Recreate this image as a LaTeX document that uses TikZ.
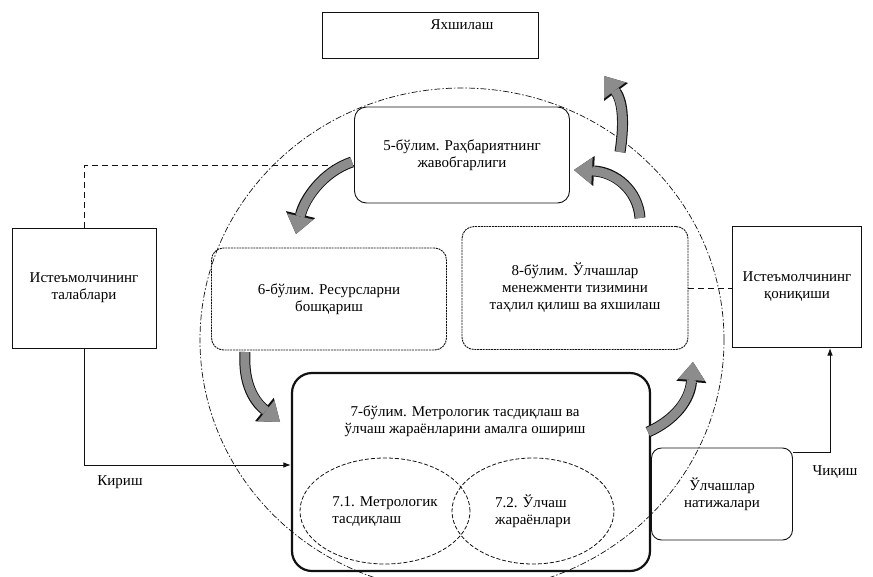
\documentclass[tikz,border=0pt]{standalone}
\usepackage{fontspec}
\setmainfont{Liberation Serif}
\usetikzlibrary{arrows.meta,calc,shapes.geometric}
\definecolor{ink}{HTML}{111111}
\definecolor{hatch}{HTML}{8C8C8C}

\begin{document}
\begin{tikzpicture}[x=1pt,y=-1pt,>=Latex,font=\fontsize{15}{17}\selectfont,
  plainbox/.style={draw=ink,line width=1pt,inner sep=0pt,align=center},
  roundbox/.style={draw=ink,line width=0.9pt,rounded corners=12pt,inner sep=0pt,align=center},
  dotbox/.style={roundbox,dash pattern=on 2pt off 0.8pt},
  oval/.style={draw=ink,ellipse,line width=0.8pt,dash pattern=on 4pt off 2pt,inner sep=0pt,align=left},
  flow/.style={draw=ink,line width=1pt},
  dashflow/.style={draw=ink,line width=1pt,dash pattern=on 6pt off 4pt},
  hatcharrow/.style={line width=9pt,draw=hatch,-{Triangle[width=27pt,length=18pt,line width=0pt]},
    preaction={draw=ink,line width=11pt,-{Triangle[width=30pt,length=20pt,line width=0pt]}}}]
\useasboundingbox (0,0) rectangle (873,576);
\draw[ink,line width=0.7pt,dash pattern=on 6pt off 2pt on 1.5pt off 2pt] (462,340) ellipse [x radius=262pt,y radius=252pt];

\node[plainbox,minimum width=216pt,minimum height=46pt] (imp) at (430,35) {};
\node (impt) at (462,25) {Яхшилаш};
\node[roundbox,minimum width=215pt,minimum height=96pt] (s5) at (462,155) {5-бўлим. Раҳбариятнинг\\жавобгарлиги};
\node[dotbox,minimum width=235pt,minimum height=102pt] (s6) at (329,299) {6-бўлим. Ресурсларни\\бошқариш};
\node[dotbox,minimum width=226pt,minimum height=123pt] (s8) at (575,288) {8-бўлим. Ўлчашлар\\менежменти тизимини\\таҳлил қилиш ва яхшилаш};
\node[plainbox,minimum width=144pt,minimum height=120pt] (req) at (84,288) {Истеъмолчининг\\талаблари};
\node[plainbox,minimum width=129pt,minimum height=121pt] (sat) at (797,287) {Истеъмолчининг\\қониқиши};
\node[roundbox,line width=2.2pt,rounded corners=20pt,minimum width=358pt,minimum height=198pt] (s7) at (471,472) {};
\node[align=center] (s7t) at (465,421) {7-бўлим. Метрологик тасдиқлаш ва\\ўлчаш жараёнларини амалга ошириш};
\node[oval,minimum width=170pt,minimum height=106pt] (e71) at (385,511) {7.1. Метрологик\\тасдиқлаш};
\node[oval,minimum width=162pt,minimum height=106pt] (e72) at (533,511) {7.2. Ўлчаш\\жараёнлари};
\node[roundbox,rounded corners=10pt,minimum width=141pt,minimum height=92pt] (res) at (722,494) {Ўлчашлар\\натижалари};
\node (inl) at (120,482) {Кириш};
\node (outl) at (835,472) {Чиқиш};

% connectors
\draw[dashflow] (req.north) |- ([yshift=-10pt]s5.west);
\draw[flow,->] (req.south) |- ([yshift=7pt]s7.west);
\draw[dashflow] (s8.east) -- (s8.east -| sat.west);
\draw[flow,->] ([yshift=-5pt]res.north east) -| ([xshift=33pt]sat.south);

% hatched cycle arrows
\coordinate (h1a) at (352,162); \coordinate (h1b) at (296,234);
\coordinate (h2a) at (245,352); \coordinate (h2b) at (280,422);
\coordinate (h3a) at (648,432); \coordinate (h3b) at (693,362);
\coordinate (h4a) at (640,218); \coordinate (h4b) at (574,170);
\coordinate (h5a) at (620,152); \coordinate (h5b) at (604,76);
\draw[hatcharrow] (h1a) .. controls (322,172) and (304,200) .. (h1b);
\draw[hatcharrow] (h2a) .. controls (243,385) and (255,402) .. (h2b);
\draw[hatcharrow] (h3a) .. controls (675,420) and (690,400) .. (h3b);
\draw[hatcharrow] (h4a) .. controls (638,190) and (615,172) .. (h4b);
\draw[hatcharrow] (h5a) .. controls (625,120) and (622,100) .. (h5b);
\end{tikzpicture}
\end{document}
